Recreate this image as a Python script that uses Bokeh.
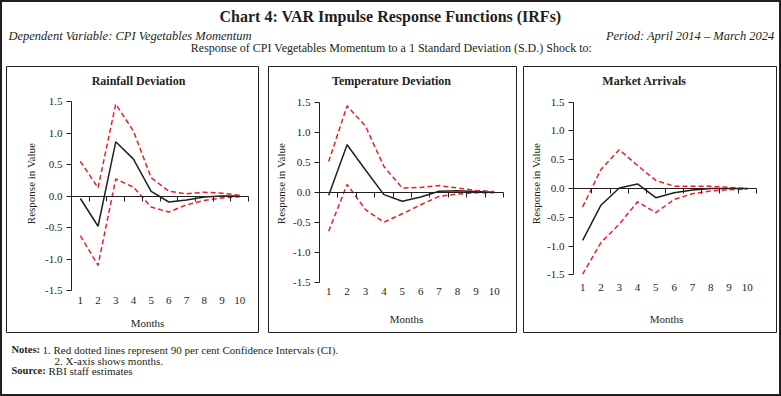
import math
from bokeh.plotting import figure
from bokeh.models import Range1d, LinearAxis, FixedTicker, Label, Spacer, PrintfTickFormatter
from bokeh.layouts import column, row
from bokeh.embed import file_html
from bokeh.resources import INLINE

FONT = "Liberation Serif"
INK = "#231f20"
RED = "#ee1c25"

# ---------------- data ----------------
months = list(range(1, 11))
y_ticks = [-1.5, -1.0, -0.5, 0.0, 0.5, 1.0, 1.5]

rain_irf = [-0.04, -0.48, 0.86, 0.585, 0.075, -0.095, -0.065, -0.015, 0.0, 0.0]
rain_upper = [0.55, 0.13, 1.46, 1.03, 0.29, 0.075, 0.035, 0.06, 0.045, 0.01]
rain_lower = [-0.63, -1.10, 0.27, 0.14, -0.175, -0.255, -0.14, -0.07, -0.03, -0.01]

temp_irf = [-0.05, 0.79, 0.37, -0.04, -0.15, -0.08, 0.015, 0.025, 0.01, 0.0]
temp_upper = [0.51, 1.44, 1.10, 0.43, 0.07, 0.08, 0.11, 0.07, 0.03, 0.01]
temp_lower = [-0.65, 0.13, -0.29, -0.50, -0.36, -0.21, -0.07, -0.03, -0.01, -0.01]

market_irf = [-0.90, -0.29, 0.01, 0.08, -0.16, -0.075, -0.025, 0.0, 0.0, 0.0]
market_upper = [-0.32, 0.33, 0.675, 0.40, 0.14, 0.04, 0.04, 0.04, 0.02, 0.0]
market_lower = [-1.49, -0.94, -0.62, -0.23, -0.42, -0.19, -0.09, -0.045, -0.02, -0.01]

panel_titles = ["Rainfall Deviation", "Temperature Deviation", "Market Arrivals"]
x_title = "Months"
y_title = "Response in Value"

chart_title = "Chart 4: VAR Impulse Response Functions (IRFs)"
sub_left = "Dependent Variable: CPI Vegetables Momentum"
sub_right = "Period: April 2014 \u2013 March 2024"
sub_center = "Response of CPI Vegetables Momentum to a 1 Standard Deviation (S.D.) Shock to:"
note_head = "Notes:"
note_1 = "1.  Red dotted lines represent 90 per cent Confidence Intervals (CI)."
note_2 = "2.  X-axis shows months."
source_head = "Source:"
source_text = "RBI staff estimates"


def panel(title, irf, upper, lower, W, H, L, R, T, B,
          title_dx, months_dx, months_dy, ylab_dx, ylab_dy, xlab_standoff):
    Wf, Hf = W - 2, H - 2
    kx = (Wf - L - R) / 10.0
    ky = (Hf - T - B) / 3.0
    x0 = 0.5 - L / kx
    x1 = 10.5 + R / kx
    y0 = -1.5 - B / ky
    y1 = 1.5 + T / ky
    p = figure(width=W, height=H, x_range=Range1d(x0, x1), y_range=Range1d(y0, y1),
               x_axis_type=None, y_axis_type=None, toolbar_location=None,
               output_backend="svg", min_border=1,
               outline_line_color=INK, outline_line_width=1,
               background_fill_color="white", border_fill_color="white")

    def px(d):
        return x0 + d / kx

    def py(d):
        return y1 - d / ky

    # y axis
    ya = LinearAxis(fixed_location=0.5, bounds=(-1.5, 1.5),
                    ticker=FixedTicker(ticks=y_ticks),
                    formatter=PrintfTickFormatter(format="%.1f"))
    ya.axis_line_color = INK
    ya.major_tick_line_color = INK
    ya.major_tick_out = 5
    ya.major_tick_in = 0
    ya.minor_tick_line_color = None
    ya.major_label_standoff = 4
    ya.major_label_text_font = FONT
    ya.major_label_text_font_size = "11px"
    ya.major_label_text_color = INK
    p.add_layout(ya, "left")

    # x axis line at zero with category boundary ticks
    za = LinearAxis(fixed_location=0.0, bounds=(0.5, 10.5),
                    ticker=FixedTicker(ticks=[m + 0.5 for m in months]))
    za.axis_line_color = INK
    za.major_tick_line_color = INK
    za.major_tick_out = 5
    za.major_tick_in = 0
    za.minor_tick_line_color = None
    za.major_label_text_color = None
    za.major_label_text_font_size = "1px"
    p.add_layout(za, "below")

    # category labels at the bottom
    xa = LinearAxis(fixed_location=-1.5, bounds=(0.5, 10.5),
                    ticker=FixedTicker(ticks=months),
                    formatter=PrintfTickFormatter(format="%d"))
    xa.axis_line_color = None
    xa.major_tick_line_color = None
    xa.minor_tick_line_color = None
    xa.major_tick_out = 0
    xa.major_tick_in = 0
    xa.major_label_standoff = xlab_standoff
    xa.major_label_text_font = FONT
    xa.major_label_text_font_size = "11px"
    xa.major_label_text_color = INK
    p.add_layout(xa, "below")

    p.line(months, irf, color=INK, line_width=1.5)
    p.line(months, upper, color=RED, line_width=1.5, line_dash="5 3")
    p.line(months, lower, color=RED, line_width=1.5, line_dash="5 3")

    p.add_layout(Label(x=px(title_dx), y=py(14), text=title, text_align="center",
                       text_baseline="middle", text_font=FONT, text_font_style="bold",
                       text_font_size="12px", text_color=INK))
    p.add_layout(Label(x=px(months_dx), y=py(months_dy), text=x_title, text_align="center",
                       text_baseline="middle", text_font=FONT,
                       text_font_size="11px", text_color=INK))
    p.add_layout(Label(x=px(ylab_dx), y=py(ylab_dy), text=y_title, text_align="center",
                       text_baseline="middle", text_font=FONT, angle=math.pi / 2,
                       text_font_size="11px", text_color=INK))
    return p


PH = 268
p1 = panel(panel_titles[0], rain_irf, rain_upper, rain_lower, 254, PH,
           65, 10, 35, 42, 132, 141, 256, 24, 117, 6)
p2 = panel(panel_titles[1], temp_irf, temp_upper, temp_lower, 250, PH,
           51, 13, 35.7, 50.3, 123, 138, 252, 12, 117, 6)
p3 = panel(panel_titles[2], market_irf, market_upper, market_lower, 255, PH,
           50, 20, 35.7, 57.7, 121, 143, 252, 12, 117, 9)


def text_fig(W, H):
    f = figure(width=W, height=H, x_range=Range1d(0, W), y_range=Range1d(H, 0),
               x_axis_type=None, y_axis_type=None, toolbar_location=None,
               output_backend="svg", min_border=0, outline_line_color=None,
               background_fill_color="white", border_fill_color="white")
    return f


header = text_fig(777, 63)
header.add_layout(Label(x=388, y=14, text=chart_title, text_align="center",
                        text_baseline="middle", text_font=FONT, text_font_style="bold",
                        text_font_size="16px", text_color=INK))
header.add_layout(Label(x=6, y=33, text=sub_left, text_align="left",
                        text_baseline="middle", text_font=FONT, text_font_style="italic",
                        text_font_size="12.5px", text_color=INK))
header.add_layout(Label(x=772, y=33, text=sub_right, text_align="right",
                        text_baseline="middle", text_font=FONT, text_font_style="italic",
                        text_font_size="12.5px", text_color=INK))
header.add_layout(Label(x=389, y=45, text=sub_center, text_align="center",
                        text_baseline="middle", text_font=FONT,
                        text_font_size="12px", text_color=INK))

footer = text_fig(777, 61)
footer.add_layout(Label(x=9, y=16, text=note_head, text_align="left", text_baseline="middle",
                        text_font=FONT, text_font_style="bold", text_font_size="10.5px",
                        text_color=INK))
footer.add_layout(Label(x=40, y=16, text=note_1, text_align="left", text_baseline="middle",
                        text_font=FONT, text_font_size="11px", text_color=INK))
footer.add_layout(Label(x=52, y=27, text=note_2, text_align="left", text_baseline="middle",
                        text_font=FONT, text_font_size="11px", text_color=INK))
footer.add_layout(Label(x=9, y=37, text=source_head, text_align="left", text_baseline="middle",
                        text_font=FONT, text_font_style="bold", text_font_size="10.5px",
                        text_color=INK))
footer.add_layout(Label(x=46, y=37, text=source_text, text_align="left", text_baseline="middle",
                        text_font=FONT, text_font_size="11px", text_color=INK))

panels = row(Spacer(width=3, height=PH), p1, Spacer(width=8, height=PH), p2,
             Spacer(width=5, height=PH), p3, Spacer(width=2, height=PH))

layout = column(header, panels, footer, width=781, height=396,
                styles={"border": "2px solid #231f20", "box-sizing": "border-box",
                        "background-color": "white"})

open("out.html", "w").write(file_html(layout, INLINE))
